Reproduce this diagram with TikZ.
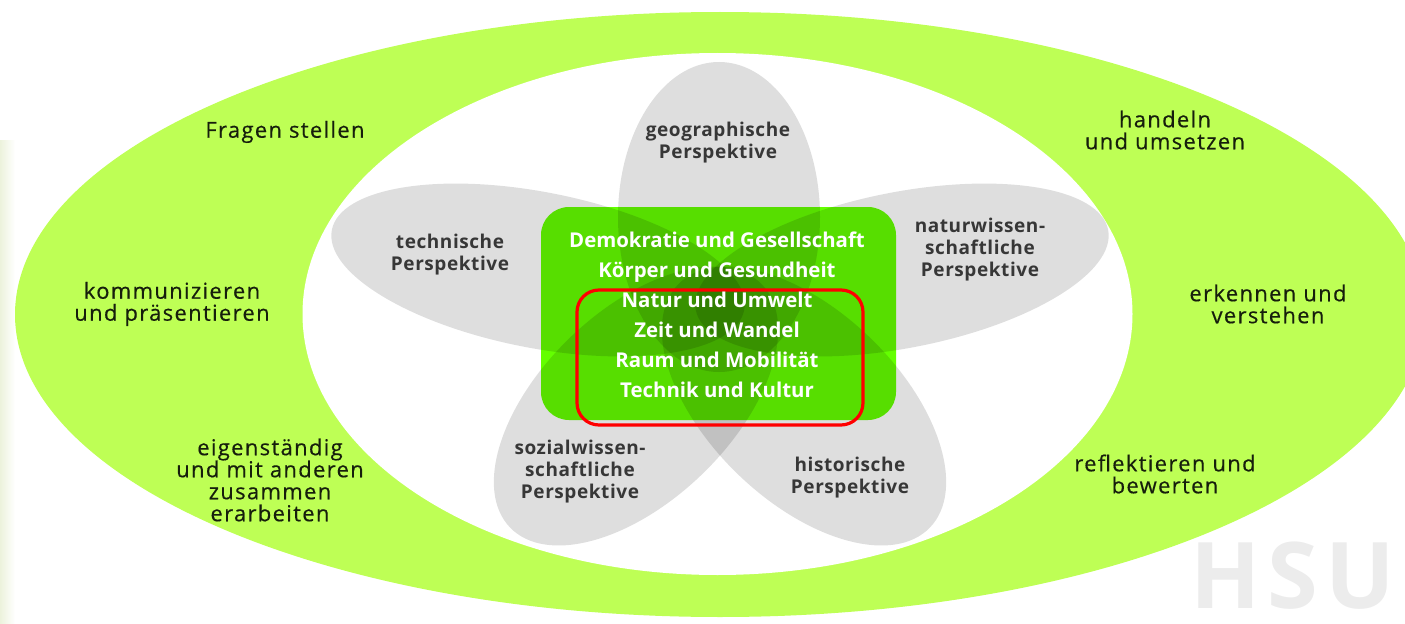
\documentclass[tikz,border=0pt]{standalone}
\usepackage{fontspec}
\setmainfont{Open Sans}
\newfontfamily\skillfont[LetterSpace=6,FakeBold=0.4]{Open Sans}
\newfontfamily\perspfont[LetterSpace=3]{Open Sans}
\newfontfamily\hsufont[LetterSpace=8]{Open Sans}

\definecolor{ringgreen}{RGB}{190,255,85}
\definecolor{boxgreen}{RGB}{100,255,0}
\definecolor{perspgray}{RGB}{55,55,55}
\definecolor{skilldark}{RGB}{22,30,12}
\definecolor{hsugray}{RGB}{236,236,236}
\definecolor{stripgreen}{RGB}{236,242,220}

\begin{document}
\begin{tikzpicture}[x=0.5pt,y=0.5pt]

\tikzset{petal/.style = {fill=black, fill opacity=0.13}}
\tikzset{skill/.style = {align=center, text=skilldark, font=\skillfont\fontsize{11}{11}\selectfont}}
\tikzset{persp/.style = {align=center, text=perspgray, font=\perspfont\bfseries\fontsize{9.5}{11}\selectfont}}
\tikzset{topic/.style = {align=center, text=white, font=\bfseries\fontsize{10.2}{15}\selectfont}}

\useasboundingbox (0,0) rectangle (1405,623);
\clip (0,0) rectangle (1405,623);

%background
\fill[left color=stripgreen, right color=white] (0,0) rectangle (15,483);
\node[anchor=west, text=hsugray, font=\hsufont\bfseries\fontsize{46}{46}\selectfont] (hsu) at (1183,47) {HSU};

%ring
\fill[ringgreen] (720,308.5) ellipse [x radius=705, y radius=302.5];
\fill[white] (717.5,309) ellipse [x radius=415, y radius=261];

%topics box
\fill[boxgreen, rounded corners=14pt] (541,203) rectangle (896,416);

%petals
\fill[petal] (719,406) ellipse [x radius=101, y radius=155];
\fill[petal, rotate around={-11:(538,353)}] (538,353) ellipse [x radius=210, y radius=78];
\fill[petal, rotate around={11:(902,353)}] (902,353) ellipse [x radius=210, y radius=78];
\fill[petal, rotate around={44:(636,217)}] (636,217) ellipse [x radius=175, y radius=95];
\fill[petal, rotate around={-44:(804,217)}] (804,217) ellipse [x radius=175, y radius=95];

\draw[red, line width=1.6pt, rounded corners=11pt] (577,198) rectangle (863,333);

%skills
\node[skill] (fragen) at (285,491) {Fragen stellen};
\node[skill] (handeln) at (1165,493) {handeln\\und umsetzen};
\node[skill] (kommunizieren) at (172,319) {kommunizieren\\und präsentieren};
\node[skill] (erkennen) at (1268,319) {erkennen und\\verstehen};
\node[skill] (erarbeiten) at (270,143) {eigenständig\\und mit anderen\\zusammen\\erarbeiten};
\node[skill] (reflektieren) at (1165,149) {reflektieren und\\bewerten};

%perspectives
\node[persp] (geo) at (718,480) {geographische\\Perspektive};
\node[persp] (tech) at (450,368) {technische\\Perspektive};
\node[persp] (natur) at (980,373) {naturwissen-\\schaftliche\\Perspektive};
\node[persp] (sozial) at (580,151) {sozialwissen-\\schaftliche\\Perspektive};
\node[persp] (hist) at (850,145) {historische\\Perspektive};

%topics
\node[topic] (topics) at (717,308) {Demokratie und Gesellschaft\\Körper und Gesundheit\\Natur und Umwelt\\Zeit und Wandel\\Raum und Mobilität\\Technik und Kultur};

\end{tikzpicture}
\end{document}
